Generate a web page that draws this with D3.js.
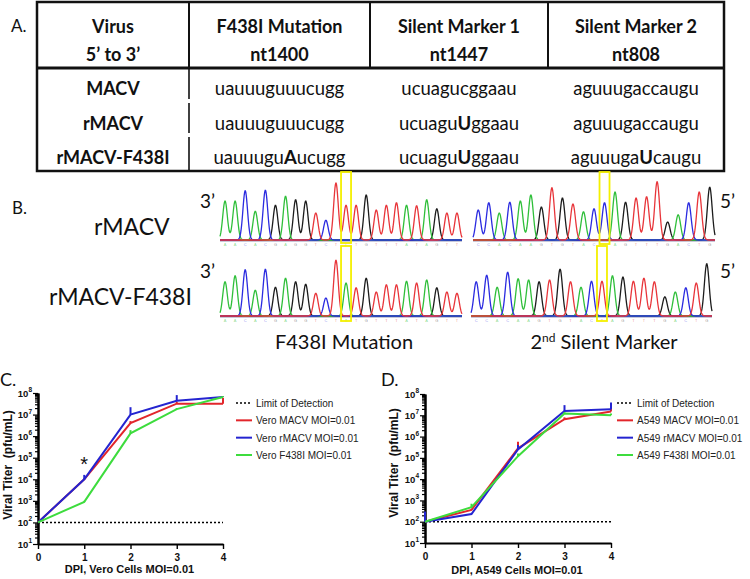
<!DOCTYPE html>
<html><head><meta charset="utf-8">
<script src="https://cdn.jsdelivr.net/npm/d3@7"></script>
<style>body{margin:0;background:#fff}svg{display:block}</style>
</head><body>
<svg id="fig" width="750" height="579"></svg>
<script>
// ================= DATA =================
// Panel A table
const tableHeaders = [["Virus", "5\u2019 to 3\u2019"], ["F438I Mutation", "nt1400"], ["Silent Marker 1", "nt1447"], ["Silent Marker 2", "nt808"]];
const viruses = ["MACV", "rMACV", "rMACV-F438I"];
const seqF438I = ["uauuuguuucugg", "uauuuguuucugg", "uauuuguAucugg"];
const seqMarker1 = ["ucuagucggaau", "ucuaguUggaau", "ucuaguUggaau"];
const seqMarker2 = ["aguuugaccaugu", "aguuugaccaugu", "aguuugaUcaugu"];

// Panel B chromatograms (base calls + peak heights, 0-100)
const chromRowLabels = ["rMACV", "rMACV-F438I"];
const chromColLabels = ["F438I Mutation", "2nd Silent Marker"];
const basesF438I_rMACV = "AACACGAGGTCTTTGTTTATAGTT";
const heightsF438I_rMACV = [65, 65, 82, 48, 83, 58, 73, 67, 65, 45, 33, 95, 58, 58, 75, 50, 58, 62, 58, 57, 67, 52, 45, 45];
const basesF438I_mut = "AACACGAGGTCTATGTTTATAGTT";
const heightsF438I_mut = [57, 67, 77, 43, 78, 48, 63, 57, 53, 38, 30, 93, 55, 47, 63, 40, 52, 52, 58, 55, 60, 47, 40, 38];
const basesMarker2_rMACV = "CCACAAGTGTACCAGTTTGACTG";
const heightsMarker2_rMACV = [50, 62, 45, 63, 65, 75, 55, 87, 70, 60, 47, 52, 62, 80, 63, 70, 72, 97, 30, 42, 62, 80, 88];
const basesMarker2_mut = "CCACAAGTGTACTAGTTTGACTG";
const heightsMarker2_mut = [57, 68, 48, 73, 62, 60, 57, 60, 78, 57, 48, 58, 58, 67, 65, 58, 63, 57, 32, 40, 47, 55, 87];
const highlightIndex = 12;

// Panels C & D growth curves
const dpi = [0, 1, 2, 3, 4];
const yTickExps = [1, 2, 3, 4, 5, 6, 7, 8];
const limitOfDetection = 1e2;

const veroNames = ["Vero MACV MOI=0.01", "Vero rMACV MOI=0.01", "Vero F438I MOI=0.01"];
const veroMACV = [1e2, 1.0e4, 4.0e6, 3.2e7, 3.2e7];
const veroRMACV = [1e2, 1.0e4, 1.0e7, 4.4e7, 6.5e7];
const veroF438I = [1e2, 9.0e2, 1.35e6, 1.8e7, 6.5e7];
const veroMACVUpper = [1e2, 1.1e4, 5.0e6, 4.0e7, 6.0e7];
const veroRMACVUpper = [1e2, 1.6e4, 2.2e7, 8.0e7, 7.0e7];
const veroF438IUpper = [1e2, 1.0e3, 1.9e6, 2.0e7, 7.0e7];

const a549Names = ["A549 MACV MOI=0.01", "A549 rMACV MOI=0.01", "A549 F438I MOI=0.01"];
const a549MACV = [1e2, 3.6e2, 2.8e5, 6.5e6, 1.5e7];
const a549RMACV = [1e2, 2.3e2, 2.5e5, 1.6e7, 1.9e7];
const a549F438I = [1e2, 4.8e2, 1.2e5, 1.2e7, 1.0e7];
const a549MACVUpper = [1e2, 4.0e2, 5.7e5, 8.0e6, 2.0e7];
const a549RMACVUpper = [3.0e2, 2.6e2, 4.0e5, 3.0e7, 4.0e7];
const a549F438IUpper = [1e2, 7.0e2, 1.6e5, 1.4e7, 1.2e7];

// ================= DRAWING =================
const svg = d3.select("#fig");
const SANS = "Lato, 'Open Sans', sans-serif";
const ARIAL = "'Liberation Sans', Arial, sans-serif";
const seriesColors = ["#e2262b", "#2424d0", "#3ddc3d"];
const baseColor = {A: "#2fbf3a", C: "#2b2be0", G: "#1c1c1c", T: "#e8353a"};

function txt(x, y, s, size, opts = {}) {
  const t = svg.append("text").attr("x", x).attr("y", y).attr("font-family", opts.family || SANS)
    .attr("font-size", size).attr("font-weight", opts.weight || "normal")
    .attr("text-anchor", opts.anchor || "start").attr("fill", opts.fill || "#111").text(s);
  return t;
}

// ---------- Panel A ----------
txt(11, 32, "A.", 17);
const colEdges = [37, 189, 370, 548, 724];
const colCenter = i => (colEdges[i] + colEdges[i + 1]) / 2;
const rowY = d3.scalePoint().domain(viruses).range([95, 164]);
const tA = svg.append("g");
tA.append("rect").attr("x", 37).attr("y", 2).attr("width", 687).attr("height", 169)
  .attr("fill", "none").attr("stroke", "#111").attr("stroke-width", 2.5);
tA.append("line").attr("x1", 37).attr("x2", 724).attr("y1", 68).attr("y2", 68).attr("stroke", "#111").attr("stroke-width", 3);
[1, 2, 3].forEach(i => tA.append("line").attr("x1", colEdges[i]).attr("x2", colEdges[i]).attr("y1", 2).attr("y2", 68).attr("stroke", "#111").attr("stroke-width", 2));
[[68, 99], [103, 133], [137, 171]].forEach(s => tA.append("line").attr("x1", 189).attr("x2", 189).attr("y1", s[0]).attr("y2", s[1]).attr("stroke", "#111").attr("stroke-width", 1.6));

tableHeaders.forEach((h, i) => {
  txt(colCenter(i), 33, h[0], 18, {anchor: "middle", weight: "bold"});
  txt(colCenter(i), 61, h[1], 18, {anchor: "middle", weight: "bold"});
});
function seqText(x, y, s) {
  const t = svg.append("text").attr("x", x).attr("y", y).attr("font-family", SANS).attr("font-size", 18.5)
    .attr("text-anchor", "middle").attr("fill", "#111");
  const parts = s.match(/[a-z]+|[A-Z]+/g);
  parts.forEach(p => t.append("tspan").attr("font-weight", /[A-Z]/.test(p) ? "bold" : "normal").text(p));
}
viruses.forEach((v, r) => {
  txt(colCenter(0), rowY(v), v, 18, {anchor: "middle", weight: "bold"});
  seqText(colCenter(1), rowY(v), seqF438I[r]);
  seqText(colCenter(2), rowY(v), seqMarker1[r]);
  seqText(colCenter(3), rowY(v), seqMarker2[r]);
});

// ---------- Panel B ----------
txt(12, 214, "B.", 17);
txt(94, 235, chromRowLabels[0], 23);
txt(49, 305, chromRowLabels[1], 23);

function chrom(bases, heights, x0, x1, yBase, yTop, box) {
  const n = bases.length;
  const xs = d3.scaleLinear().domain([-0.5, n - 0.5]).range([x0, x1]);
  const ys = d3.scaleLinear().domain([0, 100]).range([yBase, yTop]);
  const g = svg.append("g");
  g.append("line").attr("x1", x0).attr("x2", x1).attr("y1", yBase + 1.5).attr("y2", yBase + 1.5)
    .attr("stroke", "#c8c8d8").attr("stroke-width", 1);
  const ts = d3.range(-0.5, n - 0.5 + 1e-9, 0.04);
  const sig = 0.23;
  ["G", "A", "C", "T"].forEach(b => {
    const pk = [];
    bases.split("").forEach((c, i) => { if (c === b) pk.push([i, heights[i]]); });
    const vals = ts.map(t => [t, d3.sum(pk, p => p[1] * Math.exp(-((t - p[0]) ** 2) / (2 * sig * sig)))]);
    g.append("path").datum(vals)
      .attr("d", d3.line().x(d => xs(d[0])).y(d => ys(d[1])))
      .attr("fill", "none").attr("stroke", baseColor[b]).attr("stroke-width", 1.3);
  });
  g.selectAll("text.bc").data(bases.split("")).join("text")
    .attr("x", (d, i) => xs(i)).attr("y", yBase + 5.5).attr("text-anchor", "middle")
    .attr("font-family", ARIAL).attr("font-size", 4).attr("fill-opacity", 0.55)
    .attr("fill", d => baseColor[d]).text(d => d);
  g.append("rect").attr("x", xs(highlightIndex) - 5).attr("y", box[0]).attr("width", 10).attr("height", box[1] - box[0])
    .attr("fill", "none").attr("stroke", "#f4f000").attr("stroke-width", 1.8);
}
chrom(basesF438I_rMACV, heightsF438I_rMACV, 220, 462, 240, 180, [172, 243]);
chrom(basesF438I_mut, heightsF438I_mut, 220, 462, 316, 256, [246, 321]);
chrom(basesMarker2_rMACV, heightsMarker2_rMACV, 473, 715, 240, 180, [172, 244]);
chrom(basesMarker2_mut, heightsMarker2_mut, 471, 712, 316, 256, [246, 321]);

txt(200, 208, "3\u2019", 19);
txt(200, 278, "3\u2019", 19);
txt(720, 208, "5\u2019", 19);
txt(720, 278, "5\u2019", 19);
txt(344, 349, chromColLabels[0], 20, {anchor: "middle"});
{
  const t = svg.append("text").attr("x", 604).attr("y", 349).attr("font-family", SANS).attr("font-size", 20)
    .attr("text-anchor", "middle").attr("fill", "#111");
  t.append("tspan").text("2");
  t.append("tspan").attr("font-size", 12).attr("dy", -7).text("nd");
  t.append("tspan").attr("dy", 7).text(" Silent Marker");
}

// ---------- Panels C & D ----------
function growth(cfg) {
  const g = svg.append("g");
  const x = d3.scaleLinear().domain([0, 4]).range(cfg.xr);
  const y = d3.scaleLog().domain([1e1, 1e8]).range(cfg.yr);

  // panel letter
  txt(cfg.letterX, 386, cfg.letter, 18);

  // axes
  const minor = [];
  yTickExps.slice(0, -1).forEach(e => { for (let m = 2; m <= 9; m++) minor.push(m * Math.pow(10, e)); });
  const majors = yTickExps.map(e => Math.pow(10, e));
  const ax = g.append("g").attr("transform", `translate(${x(0)},0)`);
  ax.call(d3.axisLeft(y).tickValues(minor).tickSize(3).tickSizeOuter(0).tickFormat(""));
  ax.append("g").call(d3.axisLeft(y).tickValues(majors).tickSize(5).tickSizeOuter(0).tickFormat(""));
  ax.selectAll("path.domain").attr("stroke", "#000").attr("stroke-width", 2);
  ax.selectAll(".tick line").attr("stroke", "#000").attr("stroke-width", 1.2);
  majors.forEach((v, i) => {
    const t = g.append("text").attr("x", x(0) - 6).attr("y", y(v) + 3.5).attr("text-anchor", "end")
      .attr("font-family", ARIAL).attr("font-size", 9.5).attr("font-weight", "bold").attr("fill", "#111");
    t.append("tspan").text("10");
    t.append("tspan").attr("font-size", 6.5).attr("dy", -4.5).text(yTickExps[i]);
  });
  const xa = g.append("g").attr("transform", `translate(0,${y(1e1)})`)
    .call(d3.axisBottom(x).tickValues(dpi).tickSize(5).tickSizeOuter(0).tickFormat(d3.format("d")));
  xa.select("path.domain").attr("stroke", "#000").attr("stroke-width", 2);
  xa.selectAll(".tick line").attr("stroke", "#000").attr("stroke-width", 1.4);
  xa.selectAll(".tick text").attr("font-family", ARIAL).attr("font-size", 10).attr("font-weight", "bold")
    .attr("fill", "#111").attr("dy", "0.85em");

  // axis titles
  g.append("text").attr("transform", `translate(${cfg.yLabelX},${cfg.yLabelY}) rotate(-90)`)
    .attr("text-anchor", "middle").attr("font-family", ARIAL).attr("font-size", 12).attr("font-weight", "bold")
    .style("white-space", "pre").attr("fill", "#111").text("Viral Titer  (pfu/mL)");
  g.append("text").attr("x", (x(0) + x(4)) / 2 - 1).attr("y", cfg.xLabelY).attr("text-anchor", "middle")
    .attr("font-family", ARIAL).attr("font-size", 11).attr("font-weight", "bold").attr("fill", "#111").text(cfg.xLabel);

  // limit of detection
  g.append("line").attr("x1", x(0)).attr("x2", x(4)).attr("y1", y(limitOfDetection)).attr("y2", y(limitOfDetection))
    .attr("stroke", "#000").attr("stroke-width", 1.6).attr("stroke-dasharray", "2,2");

  // series
  const line = d3.line().x((d, i) => x(dpi[i])).y(d => y(d));
  cfg.series.forEach((s, k) => {
    s.upper.forEach((u, i) => {
      if (u > s.values[i]) g.append("line").attr("x1", x(dpi[i])).attr("x2", x(dpi[i]))
        .attr("y1", y(s.values[i])).attr("y2", y(u)).attr("stroke", seriesColors[k]).attr("stroke-width", 2);
    });
    g.append("path").datum(s.values).attr("d", line).attr("fill", "none")
      .attr("stroke", seriesColors[k]).attr("stroke-width", 2);
  });

  // legend
  const items = ["Limit of Detection"].concat(cfg.names);
  const ly = d3.scalePoint().domain(items).range([403, 455]);
  items.forEach((name, k) => {
    const yy = ly(name);
    const l = g.append("line").attr("x1", cfg.legX).attr("x2", cfg.legX + 16).attr("y1", yy).attr("y2", yy)
      .attr("stroke-width", k === 0 ? 1.6 : 2).attr("stroke", k === 0 ? "#000" : seriesColors[k - 1]);
    if (k === 0) l.attr("stroke-dasharray", "2,2");
    g.append("text").attr("x", cfg.legX + 20).attr("y", yy + 4).attr("font-family", ARIAL)
      .attr("font-size", 10).attr("fill", "#222").text(name);
  });
  return {x, y};
}

const C = growth({
  xr: [38, 223], yr: [544, 393], letter: "C.", letterX: 0,
  yLabelX: 12, yLabelY: 465, xLabelY: 573, xLabel: "DPI, Vero Cells MOI=0.01",
  legX: 236, names: veroNames,
  series: [
    {values: veroMACV, upper: veroMACVUpper},
    {values: veroRMACV, upper: veroRMACVUpper},
    {values: veroF438I, upper: veroF438IUpper}
  ]
});
svg.append("text").attr("x", C.x(1)).attr("y", 471).attr("text-anchor", "middle").attr("font-family", ARIAL)
  .attr("font-size", 20).attr("fill", "#111").text("*");

growth({
  xr: [425, 611], yr: [543, 394], letter: "D.", letterX: 381,
  yLabelX: 398, yLabelY: 463, xLabelY: 574, xLabel: "DPI, A549 Cells MOI=0.01",
  legX: 617, names: a549Names,
  series: [
    {values: a549MACV, upper: a549MACVUpper},
    {values: a549RMACV, upper: a549RMACVUpper},
    {values: a549F438I, upper: a549F438IUpper}
  ]
});
</script>
</body></html>
